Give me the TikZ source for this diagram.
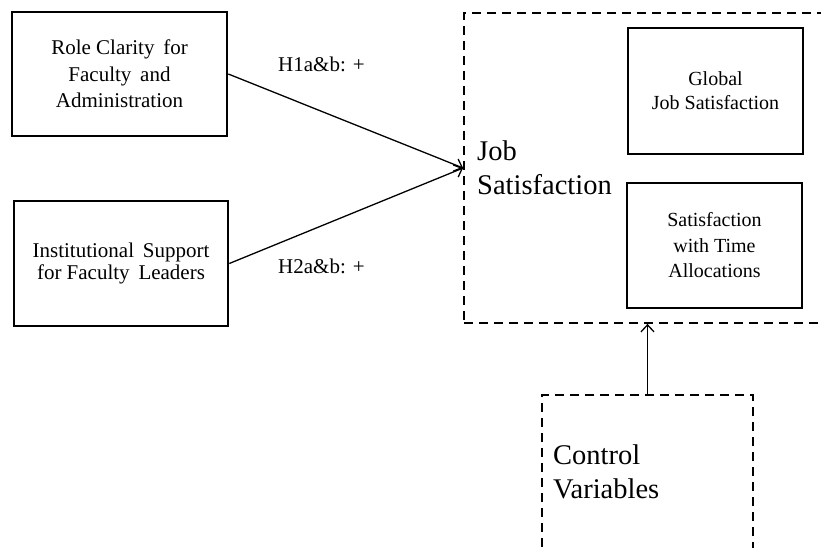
\documentclass[tikz,border=0pt]{standalone}
\usepackage{fontspec}
\setmainfont{Liberation Serif}
\usetikzlibrary{arrows.meta}
\begin{document}
\begin{tikzpicture}[x=1pt,y=-1pt,
  solidbox/.style={draw, line width=2.6pt, align=center, inner sep=0pt},
  dashbox/.style={draw, line width=1.8pt, dash pattern=on 9pt off 6pt, inner sep=0pt},
  link/.style={line width=1.3pt, -{Straight Barb[length=7pt,width=13pt,line width=1.3pt]}},
  smalltext/.style={font=\fontsize{21}{26}\selectfont},
  bigtext/.style={font=\fontsize{28.5}{34}\selectfont, align=left, inner sep=0pt}
]
\useasboundingbox (0,0) rectangle (821,548);
\clip (0,0) rectangle (821,548);

% predictor boxes
\node[solidbox, minimum width=215pt, minimum height=124pt,
      font=\fontsize{21}{26.5}\selectfont] (role) at (119.5,74)
  {Role Clarity\, for\\Faculty\, and\\Administration};
\node[solidbox, minimum width=214pt, minimum height=125pt,
      font=\fontsize{21}{22}\selectfont] (support) at (121,263.5)
  {Institutional\, Support\\for Faculty\, Leaders};

% outcome container and its components
\node[dashbox, minimum width=371pt, minimum height=310pt] (js) at (649.5,168) {};
\node[bigtext, anchor=west] (jslabel) at (477,168) {Job\\Satisfaction};
\node[solidbox, minimum width=175pt, minimum height=126pt,
      font=\fontsize{20}{24}\selectfont] (global) at (715.5,91)
  {Global\\Job Satisfaction};
\node[solidbox, minimum width=175pt, minimum height=125pt,
      font=\fontsize{20}{25.5}\selectfont] (time) at (714.5,245.5)
  {Satisfaction\\with Time\\Allocations};

% control variables
\node[dashbox, minimum width=211pt, minimum height=200pt] (ctrl) at (647.5,495) {};
\node[bigtext, anchor=west] (ctrllabel) at (553,472) {Control\\Variables};

% hypothesised paths
\draw[link] (role.east) -- (js.west);
\draw[link] (support.east) -- (js.west);
\draw[link] (ctrl.north) -- (ctrl.north |- js.south);

% path labels
\node[smalltext, anchor=base west, inner sep=0pt] (h1) at (278,72) {H1a\&b: +};
\node[smalltext, anchor=base west, inner sep=0pt] (h2) at (278,273) {H2a\&b: +};
\end{tikzpicture}
\end{document}
